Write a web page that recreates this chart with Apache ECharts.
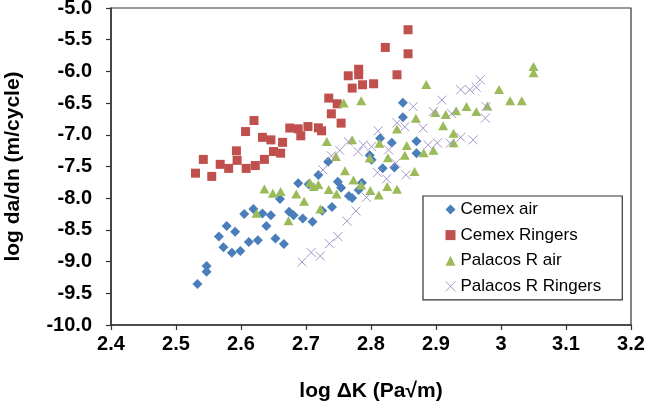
<!DOCTYPE html>
<html>
<head>
<meta charset="utf-8">
<script src="https://cdn.jsdelivr.net/npm/echarts@6/dist/echarts.min.js"></script>
<style>
html,body{margin:0;padding:0;background:#fff;}
#c{width:646px;height:408px;}
</style>
</head>
<body>
<div id="c"></div>
<script>
// ---- data (log ΔK, log da/dn) ----
var seriesNames = ['Cemex air', 'Cemex Ringers', 'Palacos R air', 'Palacos R Ringers'];

var cemexAir = [
  [2.533,-9.353],[2.547,-9.069],[2.547,-9.159],[2.566,-8.606],[2.573,-8.774],[2.578,-8.438],
  [2.586,-8.859],[2.591,-8.528],[2.599,-8.832],[2.605,-8.251],[2.612,-8.690],[2.619,-8.172],
  [2.626,-8.662],[2.633,-8.243],[2.639,-8.438],[2.646,-8.267],[2.653,-8.635],[2.660,-8.014],
  [2.666,-8.722],[2.674,-8.212],[2.681,-8.267],[2.688,-7.763],[2.695,-8.322],[2.704,-7.779],
  [2.710,-8.370],[2.719,-7.635],[2.725,-8.198],[2.734,-7.424],[2.740,-8.137],[2.749,-7.740],
  [2.754,-7.837],[2.766,-7.967],[2.771,-7.995],[2.781,-7.869],[2.786,-7.755],[2.798,-7.324],
  [2.801,-7.395],[2.814,-7.053],[2.818,-7.526],[2.832,-7.127],[2.836,-7.514],[2.849,-6.495],
  [2.849,-6.724],[2.870,-7.100],[2.870,-7.290]
];

var cemexRingers = [
  [2.530,-7.605],[2.542,-7.388],[2.555,-7.656],[2.568,-7.466],[2.581,-7.530],[2.593,-7.253],
  [2.594,-7.403],[2.608,-7.530],[2.607,-6.949],[2.620,-6.775],[2.622,-7.485],[2.633,-7.040],
  [2.636,-7.388],[2.646,-7.080],[2.650,-7.264],[2.661,-7.290],[2.664,-7.119],[2.675,-6.893],
  [2.688,-6.906],[2.692,-7.016],[2.703,-6.870],[2.719,-6.890],[2.724,-6.937],[2.735,-6.421],
  [2.748,-6.511],[2.739,-6.669],[2.754,-6.816],[2.765,-6.069],[2.781,-5.966],[2.781,-6.053],
  [2.771,-6.263],[2.787,-6.211],[2.804,-6.195],[2.822,-5.622],[2.840,-6.053],[2.857,-5.343],
  [2.857,-5.722]
];

var palacosAir = [
  [2.624,-8.237],[2.636,-7.856],[2.649,-7.921],[2.661,-7.896],[2.673,-8.354],[2.685,-7.932],
  [2.697,-8.047],[2.706,-7.751],[2.712,-7.817],[2.719,-7.782],[2.722,-8.172],[2.732,-7.106],
  [2.735,-7.861],[2.746,-7.343],[2.747,-7.935],[2.758,-6.500],[2.760,-7.566],[2.771,-7.080],
  [2.773,-7.711],[2.785,-6.464],[2.785,-7.790],[2.798,-7.364],[2.799,-7.877],[2.812,-7.948],
  [2.813,-7.135],[2.826,-7.361],[2.825,-7.817],[2.840,-6.909],[2.840,-7.858],[2.855,-7.170],
  [2.852,-7.324],[2.867,-7.580],[2.869,-6.737],[2.881,-7.285],[2.885,-6.206],[2.896,-7.242],
  [2.899,-6.648],[2.911,-6.858],[2.915,-6.680],[2.927,-6.974],[2.927,-7.127],[2.931,-6.622],
  [2.947,-6.554],[2.962,-6.633],[2.979,-6.547],[2.997,-6.285],[3.014,-6.461],[3.032,-6.461],
  [3.050,-5.922],[3.050,-6.022]
];

var palacosRingers = [
  [2.694,-9.006],[2.708,-8.856],[2.722,-8.911],[2.736,-8.717],[2.749,-8.606],[2.763,-8.362],
  [2.777,-8.201],[2.793,-7.987],[2.726,-7.553],[2.739,-7.332],[2.752,-7.245],[2.765,-7.106],
  [2.780,-7.264],[2.788,-7.159],[2.801,-7.185],[2.810,-7.596],[2.824,-7.695],[2.838,-7.447],
  [2.854,-7.632],[2.811,-6.937],[2.827,-7.237],[2.840,-6.811],[2.852,-6.874],[2.865,-6.554],
  [2.880,-6.895],[2.888,-7.159],[2.902,-7.127],[2.896,-6.633],[2.909,-6.453],[2.924,-6.664],
  [2.922,-7.132],[2.938,-7.040],[2.957,-7.080],[2.938,-6.290],[2.952,-6.290],[2.962,-6.251],
  [2.968,-6.132],[2.977,-6.554],[2.976,-6.737]
];

var xTicks = [2.4, 2.5, 2.6, 2.7, 2.8, 2.9, 3.0, 3.1, 3.2];
var yTicks = [-10.0, -9.5, -9.0, -8.5, -8.0, -7.5, -7.0, -6.5, -6.0, -5.5, -5.0];

// ---- chart ----
var FONT = '"Liberation Sans", Arial, sans-serif';
var crossPath = 'path://M0,0L10,10M10,0L0,10';

var chart = echarts.init(document.getElementById('c'), null, {renderer: 'canvas'});
chart.setOption({
  animation: false,
  backgroundColor: '#ffffff',
  grid: {
    left: 111, right: 15, top: 8, bottom: 83,
    outerBoundsMode: 'none', containLabel: false,
    show: true, borderColor: '#333', borderWidth: 1.2, backgroundColor: 'transparent'
  },
  xAxis: {
    type: 'value',
    min: xTicks[0], max: xTicks[xTicks.length - 1], interval: 0.1,
    name: 'log ΔK (Pa√m)',
    nameLocation: 'middle', nameGap: 56,
    nameTextStyle: {fontFamily: FONT, fontWeight: 'bold', fontSize: 21, color: '#000'},
    axisLine: {show: true, onZero: false, lineStyle: {color: '#333', width: 1.5}},
    axisTick: {show: true, inside: false, length: 5, lineStyle: {color: '#333', width: 1.2}},
    splitLine: {show: false},
    axisLabel: {
      margin: 9, fontFamily: FONT, fontWeight: 'bold', fontSize: 20, color: '#000',
      formatter: function (v) { return String(parseFloat(v.toFixed(1))); }
    }
  },
  yAxis: {
    type: 'value',
    min: yTicks[0], max: yTicks[yTicks.length - 1], interval: 0.5,
    name: 'log da/dn (m/cycle)',
    nameLocation: 'middle', nameGap: 87, nameRotate: 90,
    nameTextStyle: {fontFamily: FONT, fontWeight: 'bold', fontSize: 21, color: '#000'},
    axisLine: {show: true, onZero: false, lineStyle: {color: '#333', width: 1.5}},
    axisTick: {show: true, inside: false, length: 5, lineStyle: {color: '#333', width: 1.2}},
    splitLine: {show: false},
    axisLabel: {
      margin: 19, fontFamily: FONT, fontWeight: 'bold', fontSize: 20, color: '#000',
      formatter: function (v) { return v.toFixed(1); }
    }
  },
  legend: {
    orient: 'vertical',
    left: 423, top: 196,
    padding: [5, 21, 5, 20],
    itemGap: 8.6,
    itemWidth: 10, itemHeight: 10,
    borderColor: '#333', borderWidth: 1.2, backgroundColor: '#fff',
    textStyle: {fontFamily: FONT, fontSize: 17, color: '#000'},
    data: [
      {name: seriesNames[0], icon: 'diamond'},
      {name: seriesNames[1], icon: 'rect'},
      {name: seriesNames[2], icon: 'triangle'},
      {name: seriesNames[3], icon: crossPath, itemStyle: {color: 'none', borderColor: '#a895cc', borderWidth: 1}}
    ]
  },
  series: [
    {
      name: seriesNames[0], type: 'scatter', data: cemexAir,
      symbol: 'diamond', symbolSize: 10,
      itemStyle: {color: '#4a7ebb', opacity: 1}
    },
    {
      name: seriesNames[1], type: 'scatter', data: cemexRingers,
      symbol: 'rect', symbolSize: 9,
      itemStyle: {color: '#c0504d', opacity: 1}
    },
    {
      name: seriesNames[2], type: 'scatter', data: palacosAir,
      symbol: 'triangle', symbolSize: [10, 9],
      itemStyle: {color: '#9bbb59', opacity: 1}
    },
    {
      name: seriesNames[3], type: 'scatter', data: palacosRingers,
      symbol: crossPath, symbolSize: 9,
      itemStyle: {color: 'none', borderColor: '#a895cc', borderWidth: 1, opacity: 1}
    }
  ]
});
</script>
</body>
</html>
